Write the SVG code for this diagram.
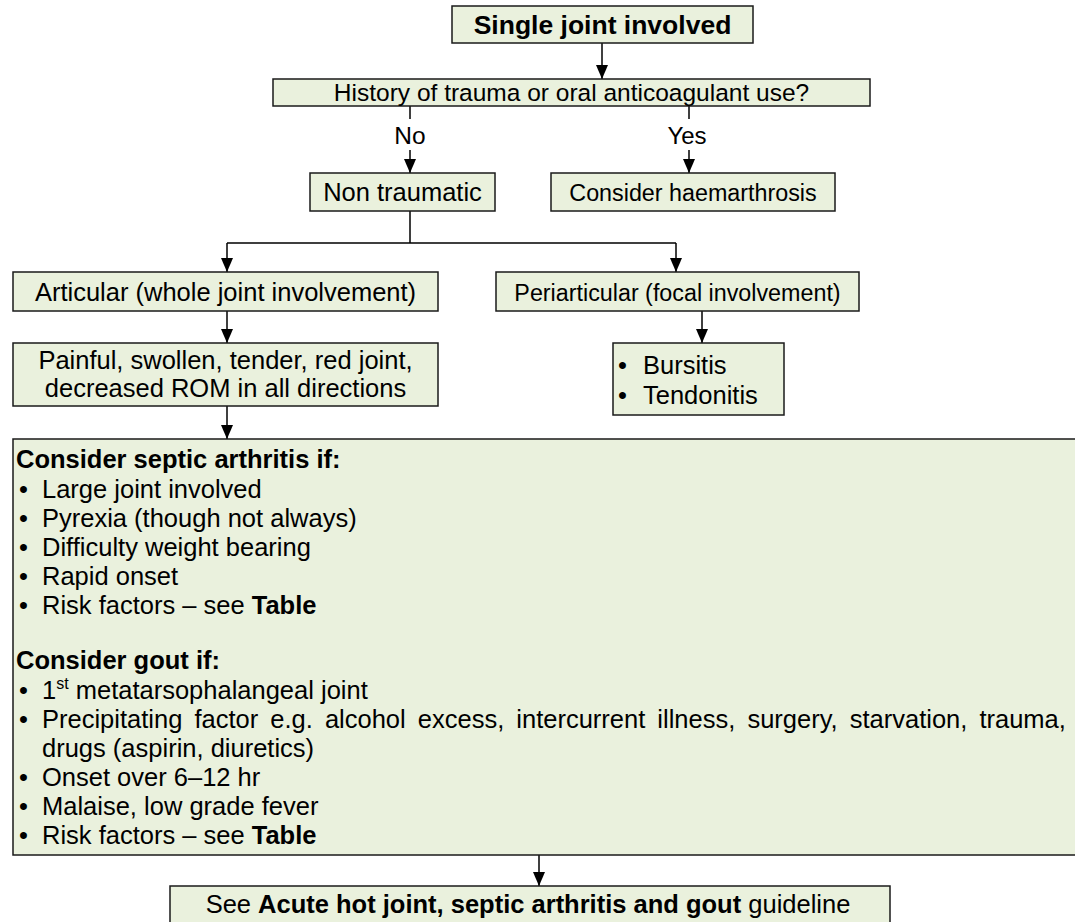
<svg xmlns="http://www.w3.org/2000/svg" width="1075" height="922" viewBox="0 0 1075 922">
<style>
.box{fill:#EAF1DD;stroke:#1a1a1a;stroke-width:1.5}
.t{font-family:"Liberation Sans",Arial,sans-serif;font-size:25.5px;fill:#000}
.s{font-size:23.3px}
.c{text-anchor:middle}
.b{font-weight:bold}
.ln{stroke:#000;stroke-width:1.5;fill:none}
</style>
<defs>
<marker id="ah" viewBox="0 0 14 12" refX="14" refY="6" markerWidth="14" markerHeight="12" markerUnits="userSpaceOnUse" orient="auto">
<path d="M0,0 L14,6 L0,12 z" fill="#000"/>
</marker>
</defs>
<rect width="1075" height="922" fill="#fff"/>
<g id="connectors">
<line class="ln" x1="602" y1="43" x2="602" y2="79" marker-end="url(#ah)"/>
<line class="ln" x1="410" y1="106" x2="410" y2="119"/>
<line class="ln" x1="410" y1="150" x2="410" y2="173" marker-end="url(#ah)"/>
<line class="ln" x1="689" y1="106" x2="689" y2="119"/>
<line class="ln" x1="689" y1="150" x2="689" y2="173" marker-end="url(#ah)"/>
<path class="ln" d="M410,211 V243 M227,243 H676"/>
<line class="ln" x1="227" y1="243" x2="227" y2="272" marker-end="url(#ah)"/>
<line class="ln" x1="676" y1="243" x2="676" y2="272" marker-end="url(#ah)"/>
<line class="ln" x1="227" y1="311" x2="227" y2="343" marker-end="url(#ah)"/>
<line class="ln" x1="702" y1="311" x2="702" y2="343" marker-end="url(#ah)"/>
<line class="ln" x1="227" y1="406" x2="227" y2="439" marker-end="url(#ah)"/>
<line class="ln" x1="539" y1="855" x2="539" y2="886" marker-end="url(#ah)"/>
<text class="t c" x="410" y="144" style="font-size:24.5px">No</text>
<text class="t c" x="687" y="144" style="font-size:24px">Yes</text>
</g>
<g id="n-single">
<rect class="box" x="452" y="6" width="301" height="37"/>
<text class="t c b" x="602.5" y="34" style="font-size:26.5px">Single joint involved</text>
</g>
<g id="n-history">
<rect class="box" x="273" y="79" width="597" height="27"/>
<text class="t c" x="571.5" y="101" style="font-size:24.5px">History of trauma or oral anticoagulant use?</text>
</g>
<g id="n-nontrauma">
<rect class="box" x="310" y="173" width="185" height="38"/>
<text class="t c" x="402.5" y="201">Non traumatic</text>
</g>
<g id="n-haem">
<rect class="box" x="551" y="173" width="284" height="38"/>
<text class="t c s" x="693" y="200.5">Consider haemarthrosis</text>
</g>
<g id="n-articular">
<rect class="box" x="13" y="272" width="425" height="39"/>
<text class="t c" x="225.5" y="301">Articular (whole joint involvement)</text>
</g>
<g id="n-periarticular">
<rect class="box" x="496" y="272" width="363" height="39"/>
<text class="t c s" x="677.5" y="300.5">Periarticular (focal involvement)</text>
</g>
<g id="n-painful">
<rect class="box" x="13" y="343" width="425" height="63"/>
<text class="t c" x="225.5" y="369">Painful, swollen, tender, red joint,</text>
<text class="t c" x="225.5" y="397">decreased ROM in all directions</text>
</g>
<g id="n-bursitis">
<rect class="box" x="613" y="343" width="171" height="72"/>
<text class="t" x="618" y="374">•</text><text class="t" x="643" y="374">Bursitis</text>
<text class="t" x="618" y="404">•</text><text class="t" x="643" y="404">Tendonitis</text>
</g>
<g id="n-consider">
<rect class="box" x="13" y="439" width="1075" height="416"/>
<text class="t b" x="16" y="468">Consider septic arthritis if:</text>
<text class="t" x="19" y="497.5">•</text><text class="t" x="42" y="497.5">Large joint involved</text>
<text class="t" x="19" y="526.5">•</text><text class="t" x="42" y="526.5">Pyrexia (though not always)</text>
<text class="t" x="19" y="555.5">•</text><text class="t" x="42" y="555.5">Difficulty weight bearing</text>
<text class="t" x="19" y="584.5">•</text><text class="t" x="42" y="584.5">Rapid onset</text>
<text class="t" x="19" y="613.5">•</text><text class="t" x="42" y="613.5">Risk factors – see <tspan class="b">Table</tspan></text>
<text class="t b" x="16" y="669">Consider gout if:</text>
<text class="t" x="19" y="699">•</text><text class="t" x="42" y="699">1<tspan dy="-10" style="font-size:16px">st</tspan><tspan dy="10"> metatarsophalangeal joint</tspan></text>
<text class="t" x="19" y="728">•</text><text class="t" x="42" y="728" style="word-spacing:5px">Precipitating factor e.g. alcohol excess, intercurrent illness, surgery, starvation, trauma,</text>
<text class="t" x="42" y="757">drugs (aspirin, diuretics)</text>
<text class="t" x="19" y="786">•</text><text class="t" x="42" y="786">Onset over 6–12 hr</text>
<text class="t" x="19" y="815">•</text><text class="t" x="42" y="815">Malaise, low grade fever</text>
<text class="t" x="19" y="844">•</text><text class="t" x="42" y="844">Risk factors – see <tspan class="b">Table</tspan></text>
</g>
<g id="n-guideline">
<rect class="box" x="170" y="886" width="720" height="50"/>
<text class="t c" x="528" y="913">See <tspan class="b">Acute hot joint, septic arthritis and gout</tspan> guideline</text>
</g>
</svg>
